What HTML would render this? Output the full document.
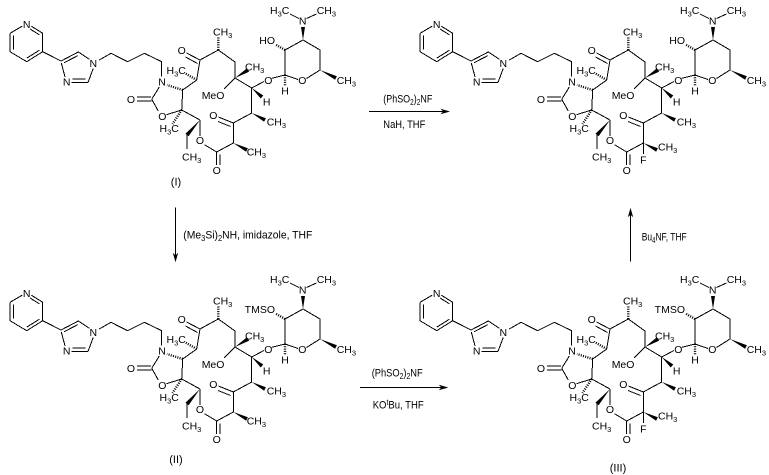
<!DOCTYPE html>
<html><head><meta charset="utf-8">
<style>
html,body{margin:0;padding:0;background:#fff;}
svg{display:block;}
.b{stroke:#000;stroke-width:1;fill:none;shape-rendering:crispEdges;}
.h{stroke:#000;stroke-width:2.4;stroke-dasharray:1 1.3;fill:none;}
.w{fill:#000;stroke:none;}
text{font-family:"Liberation Sans",sans-serif;font-size:10.5px;fill:#000;}
.r{font-size:11px;}
</style></head>
<body>
<svg width="769" height="475" viewBox="0 0 769 475" xmlns="http://www.w3.org/2000/svg">
<rect width="769" height="475" fill="#fff"/>

<!-- ===== Molecule (I) ===== -->
<g transform="translate(0,0)">
<path class="b" d="M10,33.3V51.7L26.7,61.7L42.7,51.7V33.3L31.2,26.1M22.3,26.1L10,33.3M13.3,35.5V49.5M39.4,50.2L26.8,58.1M30,29L39.4,34.8M42.7,51.7L61,61M61,61L78.3,52L89.3,59.3M93.3,68.3L88,82.5M88,82.5H71.5M85.5,79H72.5M65,77L61.3,63M64.2,62.7L77.9,55.6M99.3,60L111,53.3L127.7,61.7L144.3,53.3L161.7,61.7V76.7M159.3,87L151.7,99.3M151,97H137M151.7,101H137M151.7,99.3L158.3,111M166.5,114.7L181.7,110M182.7,90L181.7,110M182.7,90L196.7,80M181.7,110L200,120M196.7,80L200,60L218.3,50L235,62V78L251.7,88V113L233.3,123V143L216.7,152L204.5,144.7M200,136V120M200,60L186.5,53M197.5,63.5L185.5,57M235,78L224,89M251.7,88L264,81.5M233.3,123L218.5,117M230.5,126.5L218,121.5M216.7,152V165M220,154.5V165M187,135V149M271.7,78.3L285,75L298,79.5M306.5,78.5L320,70V50L303,40L285,50V75M299,18.5L290,14M306.5,18.5L316.5,14"/>
<path class="h" d="M182.7,90L167,85M196.7,80L185.5,73.5M181.7,110L172.5,124M218.3,50V37M285,75V86M285,50L275.5,44.5"/>
<path class="w" d="M235,78L249.05,71.7L246.95,68.3ZM251.7,88L260.7,98.5L263.3,95.5ZM251.7,113L264.1,121.8L265.9,118.2ZM233.3,143L246.1,151.8L247.9,148.2ZM200,120L188.6,136.3L185.4,133.7ZM320,70L335.1,79.8L336.9,76.2ZM303,40L301,27L305,27Z"/>
<text x="26.7" y="27.8" text-anchor="middle">N</text>
<text x="93.3" y="67.1" text-anchor="middle">N</text>
<text x="66.7" y="85.5" text-anchor="middle">N</text>
<text x="162" y="85.5" text-anchor="middle">N</text>
<text x="131" y="102.8" text-anchor="middle">O</text>
<text x="162.3" y="119.8" text-anchor="middle">O</text>
<text x="166.5" y="74">H<tspan font-size="7.5" dy="2.5">3</tspan><tspan dy="-2.5">C</tspan></text>
<text x="159.5" y="132">H<tspan font-size="7.5" dy="2.5">3</tspan><tspan dy="-2.5">C</tspan></text>
<text x="182" y="160.5">CH<tspan font-size="7.5" dy="2.5">3</tspan></text>
<text x="181.7" y="53.8" text-anchor="middle">O</text>
<text x="213" y="35.5">CH<tspan font-size="7.5" dy="2.5">3</tspan></text>
<text x="245" y="70.5">CH<tspan font-size="7.5" dy="2.5">3</tspan></text>
<text x="201.7" y="98.8">MeO</text>
<text x="268.3" y="83.8" text-anchor="middle">O</text>
<text x="266.7" y="105.5" text-anchor="middle">H</text>
<text x="266.7" y="125.5">CH<tspan font-size="7.5" dy="2.5">3</tspan></text>
<text x="213.3" y="118.8" text-anchor="middle">O</text>
<text x="246.7" y="155.5">CH<tspan font-size="7.5" dy="2.5">3</tspan></text>
<text x="216.7" y="173.8" text-anchor="middle">O</text>
<text x="200" y="143.8" text-anchor="middle">O</text>
<text x="285" y="94.5" text-anchor="middle">H</text>
<text x="302.3" y="83.8" text-anchor="middle">O</text>
<text x="336.7" y="83.8">CH<tspan font-size="7.5" dy="2.5">3</tspan></text>
<text x="302.7" y="24.5" text-anchor="middle">N</text>
<text x="270" y="13.8">H<tspan font-size="7.5" dy="2.5">3</tspan><tspan dy="-2.5">C</tspan></text>
<text x="316.7" y="13.8">CH<tspan font-size="7.5" dy="2.5">3</tspan></text>
<text x="275" y="43.8" text-anchor="end">HO</text>
</g>
<text class="r" x="176" y="185.5" text-anchor="middle">(I)</text>

<!-- ===== Molecule (II) ===== -->
<g transform="translate(0,269)">
<path class="b" d="M10,33.3V51.7L26.7,61.7L42.7,51.7V33.3L31.2,26.1M22.3,26.1L10,33.3M13.3,35.5V49.5M39.4,50.2L26.8,58.1M30,29L39.4,34.8M42.7,51.7L61,61M61,61L78.3,52L89.3,59.3M93.3,68.3L88,82.5M88,82.5H71.5M85.5,79H72.5M65,77L61.3,63M64.2,62.7L77.9,55.6M99.3,60L111,53.3L127.7,61.7L144.3,53.3L161.7,61.7V76.7M159.3,87L151.7,99.3M151,97H137M151.7,101H137M151.7,99.3L158.3,111M166.5,114.7L181.7,110M182.7,90L181.7,110M182.7,90L196.7,80M181.7,110L200,120M196.7,80L200,60L218.3,50L235,62V78L251.7,88V113L233.3,123V143L216.7,152L204.5,144.7M200,136V120M200,60L186.5,53M197.5,63.5L185.5,57M235,78L224,89M251.7,88L264,81.5M233.3,123L218.5,117M230.5,126.5L218,121.5M216.7,152V165M220,154.5V165M187,135V149M271.7,78.3L285,75L298,79.5M306.5,78.5L320,70V50L303,40L285,50V75M299,18.5L290,14M306.5,18.5L316.5,14"/>
<path class="h" d="M182.7,90L167,85M196.7,80L185.5,73.5M181.7,110L172.5,124M218.3,50V37M285,75V86M285,50L275.5,44.5"/>
<path class="w" d="M235,78L249.05,71.7L246.95,68.3ZM251.7,88L260.7,98.5L263.3,95.5ZM251.7,113L264.1,121.8L265.9,118.2ZM233.3,143L246.1,151.8L247.9,148.2ZM200,120L188.6,136.3L185.4,133.7ZM320,70L335.1,79.8L336.9,76.2ZM303,40L301,27L305,27Z"/>
<text x="26.7" y="27.8" text-anchor="middle">N</text>
<text x="93.3" y="67.1" text-anchor="middle">N</text>
<text x="66.7" y="85.5" text-anchor="middle">N</text>
<text x="162" y="85.5" text-anchor="middle">N</text>
<text x="131" y="102.8" text-anchor="middle">O</text>
<text x="162.3" y="119.8" text-anchor="middle">O</text>
<text x="166.5" y="74">H<tspan font-size="7.5" dy="2.5">3</tspan><tspan dy="-2.5">C</tspan></text>
<text x="159.5" y="132">H<tspan font-size="7.5" dy="2.5">3</tspan><tspan dy="-2.5">C</tspan></text>
<text x="182" y="160.5">CH<tspan font-size="7.5" dy="2.5">3</tspan></text>
<text x="181.7" y="53.8" text-anchor="middle">O</text>
<text x="213" y="35.5">CH<tspan font-size="7.5" dy="2.5">3</tspan></text>
<text x="245" y="70.5">CH<tspan font-size="7.5" dy="2.5">3</tspan></text>
<text x="201.7" y="98.8">MeO</text>
<text x="268.3" y="83.8" text-anchor="middle">O</text>
<text x="266.7" y="105.5" text-anchor="middle">H</text>
<text x="266.7" y="125.5">CH<tspan font-size="7.5" dy="2.5">3</tspan></text>
<text x="213.3" y="118.8" text-anchor="middle">O</text>
<text x="246.7" y="155.5">CH<tspan font-size="7.5" dy="2.5">3</tspan></text>
<text x="216.7" y="173.8" text-anchor="middle">O</text>
<text x="200" y="143.8" text-anchor="middle">O</text>
<text x="285" y="94.5" text-anchor="middle">H</text>
<text x="302.3" y="83.8" text-anchor="middle">O</text>
<text x="336.7" y="83.8">CH<tspan font-size="7.5" dy="2.5">3</tspan></text>
<text x="302.7" y="24.5" text-anchor="middle">N</text>
<text x="270" y="13.8">H<tspan font-size="7.5" dy="2.5">3</tspan><tspan dy="-2.5">C</tspan></text>
<text x="316.7" y="13.8">CH<tspan font-size="7.5" dy="2.5">3</tspan></text>
<text x="275" y="43.8" text-anchor="end">TMSO</text>
</g>
<text class="r" x="176" y="463" text-anchor="middle">(II)</text>

<!-- ===== Molecule (III) ===== -->
<g transform="translate(410,269)">
<path class="b" d="M10,33.3V51.7L26.7,61.7L42.7,51.7V33.3L31.2,26.1M22.3,26.1L10,33.3M13.3,35.5V49.5M39.4,50.2L26.8,58.1M30,29L39.4,34.8M42.7,51.7L61,61M61,61L78.3,52L89.3,59.3M93.3,68.3L88,82.5M88,82.5H71.5M85.5,79H72.5M65,77L61.3,63M64.2,62.7L77.9,55.6M99.3,60L111,53.3L127.7,61.7L144.3,53.3L161.7,61.7V76.7M159.3,87L151.7,99.3M151,97H137M151.7,101H137M151.7,99.3L158.3,111M166.5,114.7L181.7,110M182.7,90L181.7,110M182.7,90L196.7,80M181.7,110L200,120M196.7,80L200,60L218.3,50L235,62V78L251.7,88V113L233.3,123V143L216.7,152L204.5,144.7M200,136V120M200,60L186.5,53M197.5,63.5L185.5,57M235,78L224,89M251.7,88L264,81.5M233.3,123L218.5,117M230.5,126.5L218,121.5M216.7,152V165M220,154.5V165M187,135V149M271.7,78.3L285,75L298,79.5M306.5,78.5L320,70V50L303,40L285,50V75M299,18.5L290,14M306.5,18.5L316.5,14M233.3,143V154"/>
<path class="h" d="M182.7,90L167,85M196.7,80L185.5,73.5M181.7,110L172.5,124M218.3,50V37M285,75V86M285,50L275.5,44.5"/>
<path class="w" d="M235,78L249.05,71.7L246.95,68.3ZM251.7,88L260.7,98.5L263.3,95.5ZM251.7,113L264.1,121.8L265.9,118.2ZM233.3,143L246.1,151.8L247.9,148.2ZM200,120L188.6,136.3L185.4,133.7ZM320,70L335.1,79.8L336.9,76.2ZM303,40L301,27L305,27Z"/>
<text x="26.7" y="27.8" text-anchor="middle">N</text>
<text x="93.3" y="67.1" text-anchor="middle">N</text>
<text x="66.7" y="85.5" text-anchor="middle">N</text>
<text x="162" y="85.5" text-anchor="middle">N</text>
<text x="131" y="102.8" text-anchor="middle">O</text>
<text x="162.3" y="119.8" text-anchor="middle">O</text>
<text x="166.5" y="74">H<tspan font-size="7.5" dy="2.5">3</tspan><tspan dy="-2.5">C</tspan></text>
<text x="159.5" y="132">H<tspan font-size="7.5" dy="2.5">3</tspan><tspan dy="-2.5">C</tspan></text>
<text x="182" y="160.5">CH<tspan font-size="7.5" dy="2.5">3</tspan></text>
<text x="181.7" y="53.8" text-anchor="middle">O</text>
<text x="213" y="35.5">CH<tspan font-size="7.5" dy="2.5">3</tspan></text>
<text x="245" y="70.5">CH<tspan font-size="7.5" dy="2.5">3</tspan></text>
<text x="201.7" y="98.8">MeO</text>
<text x="268.3" y="83.8" text-anchor="middle">O</text>
<text x="266.7" y="105.5" text-anchor="middle">H</text>
<text x="266.7" y="125.5">CH<tspan font-size="7.5" dy="2.5">3</tspan></text>
<text x="213.3" y="118.8" text-anchor="middle">O</text>
<text x="248" y="150.5">CH<tspan font-size="7.5" dy="2.5">3</tspan></text>
<text x="216.7" y="173.8" text-anchor="middle">O</text>
<text x="200" y="143.8" text-anchor="middle">O</text>
<text x="233.3" y="163.5" text-anchor="middle">F</text>
<text x="285" y="94.5" text-anchor="middle">H</text>
<text x="302.3" y="83.8" text-anchor="middle">O</text>
<text x="336.7" y="83.8">CH<tspan font-size="7.5" dy="2.5">3</tspan></text>
<text x="302.7" y="24.5" text-anchor="middle">N</text>
<text x="270" y="13.8">H<tspan font-size="7.5" dy="2.5">3</tspan><tspan dy="-2.5">C</tspan></text>
<text x="316.7" y="13.8">CH<tspan font-size="7.5" dy="2.5">3</tspan></text>
<text x="275" y="43.8" text-anchor="end">TMSO</text>
</g>
<text class="r" x="618" y="471.5" text-anchor="middle">(III)</text>

<!-- ===== Molecule (IV) ===== -->
<g transform="translate(410,0)">
<path class="b" d="M10,33.3V51.7L26.7,61.7L42.7,51.7V33.3L31.2,26.1M22.3,26.1L10,33.3M13.3,35.5V49.5M39.4,50.2L26.8,58.1M30,29L39.4,34.8M42.7,51.7L61,61M61,61L78.3,52L89.3,59.3M93.3,68.3L88,82.5M88,82.5H71.5M85.5,79H72.5M65,77L61.3,63M64.2,62.7L77.9,55.6M99.3,60L111,53.3L127.7,61.7L144.3,53.3L161.7,61.7V76.7M159.3,87L151.7,99.3M151,97H137M151.7,101H137M151.7,99.3L158.3,111M166.5,114.7L181.7,110M182.7,90L181.7,110M182.7,90L196.7,80M181.7,110L200,120M196.7,80L200,60L218.3,50L235,62V78L251.7,88V113L233.3,123V143L216.7,152L204.5,144.7M200,136V120M200,60L186.5,53M197.5,63.5L185.5,57M235,78L224,89M251.7,88L264,81.5M233.3,123L218.5,117M230.5,126.5L218,121.5M216.7,152V165M220,154.5V165M187,135V149M271.7,78.3L285,75L298,79.5M306.5,78.5L320,70V50L303,40L285,50V75M299,18.5L290,14M306.5,18.5L316.5,14M233.3,143V154"/>
<path class="h" d="M182.7,90L167,85M196.7,80L185.5,73.5M181.7,110L172.5,124M218.3,50V37M285,75V86M285,50L275.5,44.5"/>
<path class="w" d="M235,78L249.05,71.7L246.95,68.3ZM251.7,88L260.7,98.5L263.3,95.5ZM251.7,113L264.1,121.8L265.9,118.2ZM233.3,143L246.1,151.8L247.9,148.2ZM200,120L188.6,136.3L185.4,133.7ZM320,70L335.1,79.8L336.9,76.2ZM303,40L301,27L305,27Z"/>
<text x="26.7" y="27.8" text-anchor="middle">N</text>
<text x="93.3" y="67.1" text-anchor="middle">N</text>
<text x="66.7" y="85.5" text-anchor="middle">N</text>
<text x="162" y="85.5" text-anchor="middle">N</text>
<text x="131" y="102.8" text-anchor="middle">O</text>
<text x="162.3" y="119.8" text-anchor="middle">O</text>
<text x="166.5" y="74">H<tspan font-size="7.5" dy="2.5">3</tspan><tspan dy="-2.5">C</tspan></text>
<text x="159.5" y="132">H<tspan font-size="7.5" dy="2.5">3</tspan><tspan dy="-2.5">C</tspan></text>
<text x="182" y="160.5">CH<tspan font-size="7.5" dy="2.5">3</tspan></text>
<text x="181.7" y="53.8" text-anchor="middle">O</text>
<text x="213" y="35.5">CH<tspan font-size="7.5" dy="2.5">3</tspan></text>
<text x="245" y="70.5">CH<tspan font-size="7.5" dy="2.5">3</tspan></text>
<text x="201.7" y="98.8">MeO</text>
<text x="268.3" y="83.8" text-anchor="middle">O</text>
<text x="266.7" y="105.5" text-anchor="middle">H</text>
<text x="266.7" y="125.5">CH<tspan font-size="7.5" dy="2.5">3</tspan></text>
<text x="213.3" y="118.8" text-anchor="middle">O</text>
<text x="248" y="150.5">CH<tspan font-size="7.5" dy="2.5">3</tspan></text>
<text x="216.7" y="173.8" text-anchor="middle">O</text>
<text x="200" y="143.8" text-anchor="middle">O</text>
<text x="233.3" y="163.5" text-anchor="middle">F</text>
<text x="285" y="94.5" text-anchor="middle">H</text>
<text x="302.3" y="83.8" text-anchor="middle">O</text>
<text x="336.7" y="83.8">CH<tspan font-size="7.5" dy="2.5">3</tspan></text>
<text x="302.7" y="24.5" text-anchor="middle">N</text>
<text x="270" y="13.8">H<tspan font-size="7.5" dy="2.5">3</tspan><tspan dy="-2.5">C</tspan></text>
<text x="316.7" y="13.8">CH<tspan font-size="7.5" dy="2.5">3</tspan></text>
<text x="275" y="43.8" text-anchor="end">HO</text>
</g>

<!-- ===== Arrows ===== -->
<path class="b" d="M369,111.5H444"/>
<path class="w" d="M450,111.5L440.5,108.8L443,111.5L440.5,114.2Z"/>
<text class="r" x="383.3" y="102.7" textLength="49" lengthAdjust="spacingAndGlyphs">(PhSO<tspan font-size="8" dy="2.5">2</tspan><tspan dy="-2.5">)</tspan><tspan font-size="8" dy="2.5">2</tspan><tspan dy="-2.5">NF</tspan></text>
<text class="r" x="383.3" y="127.8" textLength="42" lengthAdjust="spacingAndGlyphs">NaH, THF</text>

<path class="b" d="M175.5,207.5V256"/>
<path class="w" d="M175.5,262.3L172.8,252.8L175.5,255.3L178.2,252.8Z"/>
<text class="r" x="183.3" y="238.3" textLength="129" lengthAdjust="spacingAndGlyphs">(Me<tspan font-size="8" dy="2.5">3</tspan><tspan dy="-2.5">Si)</tspan><tspan font-size="8" dy="2.5">2</tspan><tspan dy="-2.5">NH, imidazole, THF</tspan></text>

<path class="b" d="M360,387.5H442"/>
<path class="w" d="M448.3,387.5L438.8,384.8L441.3,387.5L438.8,390.2Z"/>
<text class="r" x="371.7" y="376.5" textLength="51" lengthAdjust="spacingAndGlyphs">(PhSO<tspan font-size="8" dy="2.5">2</tspan><tspan dy="-2.5">)</tspan><tspan font-size="8" dy="2.5">2</tspan><tspan dy="-2.5">NF</tspan></text>
<text class="r" x="372.7" y="408.5" textLength="51" lengthAdjust="spacingAndGlyphs">KO<tspan font-size="8" dy="-3.5">t</tspan><tspan dy="3.5">Bu, THF</tspan></text>

<path class="b" d="M630.5,261.7V214"/>
<path class="w" d="M630.5,207.7L627.8,217.2L630.5,214.7L633.2,217.2Z"/>
<text class="r" x="641.7" y="240.5" textLength="45" lengthAdjust="spacingAndGlyphs">Bu<tspan font-size="8" dy="2.5">4</tspan><tspan dy="-2.5">NF, THF</tspan></text>
</svg>
</body></html>
